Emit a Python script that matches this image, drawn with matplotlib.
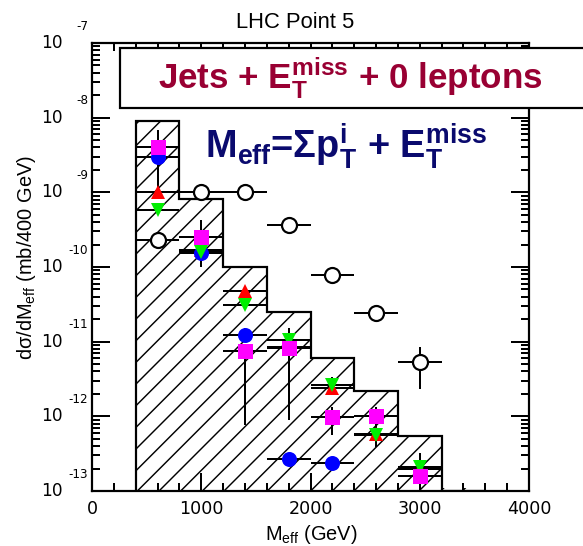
import numpy as np
import matplotlib
matplotlib.use('Agg')
import matplotlib.pyplot as plt
from matplotlib.patches import Rectangle
from matplotlib.ticker import MultipleLocator, LogLocator, NullFormatter
from matplotlib.transforms import offset_copy

plt.rcParams['font.family'] = ['Liberation Sans', 'DejaVu Sans']
plt.rcParams['mathtext.default'] = 'regular'
plt.rcParams['hatch.linewidth'] = 0.8

DPI = 130

# hatched histogram, 400 GeV bins
bin_edges = [400, 800, 1200, 1600, 2000, 2400, 2800, 3200, 3600]
hist_vals = [9.1e-9, 8.1e-10, 1.0e-10, 2.5e-11, 6.0e-12, 2.2e-12, 5.5e-13, 1.0e-13]

m_eff = [600, 1000, 1400, 1800, 2200, 2600, 3000]
x_half = 200

# open circles
open_vals = [2.3e-10, 1.0e-9, 1.0e-9, 3.6e-10, 7.9e-11, 2.4e-11, 5.4e-12]
open_lo = [2.2e-10, 0.95e-9, 0.95e-9, 3.4e-10, 7.4e-11, 2.1e-11, 2.3e-12]
open_hi = [2.4e-10, 1.05e-9, 1.05e-9, 3.8e-10, 8.4e-11, 2.7e-11, 8.6e-12]

# red up-triangles
red_vals = [1.0e-9, 1.7e-10, 4.7e-11, 8.5e-12, 2.4e-12, 5.8e-13, 2.0e-13]
red_lo = [0.9e-9, 1.5e-10, 4.2e-11, 7.0e-12, 2.0e-12, 4.6e-13, 1.6e-13]
red_hi = [1.1e-9, 1.9e-10, 5.2e-11, 1.0e-11, 2.9e-12, 7.0e-13, 2.5e-13]

# green down-triangles
green_vals = [5.8e-10, 1.6e-10, 3.1e-11, 1.05e-11, 2.6e-12, 5.6e-13, 2.1e-13]
green_lo = [5.3e-10, 1.4e-10, 2.8e-11, 9.0e-12, 1.93e-12, 3.9e-13, 1.7e-13]
green_hi = [6.3e-10, 1.8e-10, 3.4e-11, 1.2e-11, 3.4e-12, 7.0e-13, 2.6e-13]

# blue circles
blue_x = [600, 1000, 1400, 1800, 2200]
blue_vals = [3.0e-9, 1.55e-10, 1.23e-11, 2.7e-13, 2.4e-13]
blue_lo = [2.8e-9, 1.45e-10, 1.1e-11, 2.5e-13, 2.2e-13]
blue_hi = [3.2e-9, 1.65e-10, 1.52e-11, 2.9e-13, 2.6e-13]

# magenta squares
mag_vals = [4.1e-9, 2.5e-10, 7.6e-12, 8.2e-12, 9.8e-13, 1.0e-12, 1.6e-13]
mag_lo = [1.1e-9, 1.0e-10, 7.7e-13, 8.9e-13, 5.6e-13, 6.0e-13, 1.5e-13]
mag_hi = [6.8e-9, 4.3e-10, 8.0e-12, 1.52e-11, 1.35e-12, 1.35e-12, 3.2e-13]

y_decades = [-7, -8, -9, -10, -11, -12, -13]


def px(p):
    # pixels -> points at the output resolution
    return p * 72.0 / DPI


fig = plt.figure(figsize=(583 / DPI, 546 / DPI), dpi=DPI)
ax = fig.add_axes([92 / 583, 55 / 546, 437 / 583, 448 / 546])

ax.bar(bin_edges[:-1], hist_vals, width=400, align='edge', bottom=1e-14,
       fill=False, hatch='//', edgecolor='black', linewidth=0, zorder=1)
ax.stairs(hist_vals, bin_edges, baseline=1e-14, color='black',
          linewidth=px(2.2), zorder=2)


def draw_series(x, vals, lo, hi, marker, color, size, face=None, mew=0):
    vals = np.asarray(vals)
    yerr = [vals - np.asarray(lo), np.asarray(hi) - vals]
    ax.errorbar(x, vals, xerr=x_half, yerr=yerr, fmt='none',
                ecolor='black', elinewidth=px(2), capsize=0, zorder=3)
    ax.plot(x, vals, linestyle='none', marker=marker, markersize=size,
            markerfacecolor=face or color, markeredgecolor=color,
            markeredgewidth=mew, zorder=4)


draw_series(m_eff, open_vals, open_lo, open_hi, 'o', 'black', px(15),
            face='white', mew=px(2.2))
draw_series(m_eff, red_vals, red_lo, red_hi, '^', '#ff0000', px(14))
draw_series(blue_x, blue_vals, blue_lo, blue_hi, 'o', '#0000ff', px(15))
draw_series(m_eff, green_vals, green_lo, green_hi, 'v', '#00ee00', px(14))
draw_series(m_eff, mag_vals, mag_lo, mag_hi, 's', '#ff00ff', px(15))

ax.set_xlim(0, 4000)
ax.set_yscale('log')
ax.set_ylim(1e-13, 1e-7)

ax.xaxis.set_major_locator(MultipleLocator(1000))
ax.xaxis.set_minor_locator(MultipleLocator(200))
ax.yaxis.set_major_locator(LogLocator(base=10))
ax.yaxis.set_minor_locator(LogLocator(base=10, subs=np.arange(2, 10)))
ax.yaxis.set_major_formatter(NullFormatter())
ax.yaxis.set_minor_formatter(NullFormatter())

ax.tick_params(which='both', direction='in', top=True, right=True,
               width=px(2), color='black')
ax.tick_params(which='major', length=px(18), pad=px(9))
ax.tick_params(which='minor', length=px(8))
for lab in ax.get_xticklabels():
    lab.set_fontfamily('DejaVu Sans')
    lab.set_fontsize(px(17.5))
for sp in ax.spines.values():
    sp.set_linewidth(px(2.2))

# PAW-style decade labels: "10" with the exponent raised to the right
ytrans = ax.get_yaxis_transform()
exp_trans = offset_copy(ytrans, fig=fig, y=px(17), units='points')
for e in y_decades:
    ax.text(-0.066, 10.0 ** e, '10', transform=ytrans, ha='right',
            va='center', fontsize=px(17), family='DejaVu Sans')
    ax.text(-0.009, 10.0 ** e, str(e), transform=exp_trans, ha='right',
            va='center', fontsize=px(12), family='DejaVu Sans')

fig.text(295 / 583, 1 - 28 / 546, 'LHC Point 5', ha='center',
         va='baseline', fontsize=px(22))
fig.text(311 / 583, 1 - 540 / 546, 'M$_{eff}$ (GeV)', ha='center',
         va='baseline', fontsize=px(20))
fig.text(27 / 583, 1 - 258 / 546, 'dσ/dM$_{eff}$ (mb/400 GeV)',
         rotation=90, ha='center', va='center', fontsize=px(20))

fig.add_artist(Rectangle((120 / 583, 1 - 108 / 546), 0.9, 60 / 546,
                         transform=fig.transFigure, facecolor='white',
                         edgecolor='black', linewidth=px(2.2),
                         clip_on=False, zorder=5))
fig.text(350 / 583, 1 - 88 / 546, 'Jets + E$_T^{miss}$ + 0 leptons',
         ha='center', va='baseline', fontsize=px(35), fontweight='bold',
         color='#990033', zorder=6)
fig.text(346 / 583, 1 - 158 / 546, 'M$_{eff}$=Σp$_T^i$ + E$_T^{miss}$',
         ha='center', va='baseline', fontsize=px(38), fontweight='bold',
         color='#0a0a6e', zorder=6)

fig.savefig('out.png', dpi=DPI)
